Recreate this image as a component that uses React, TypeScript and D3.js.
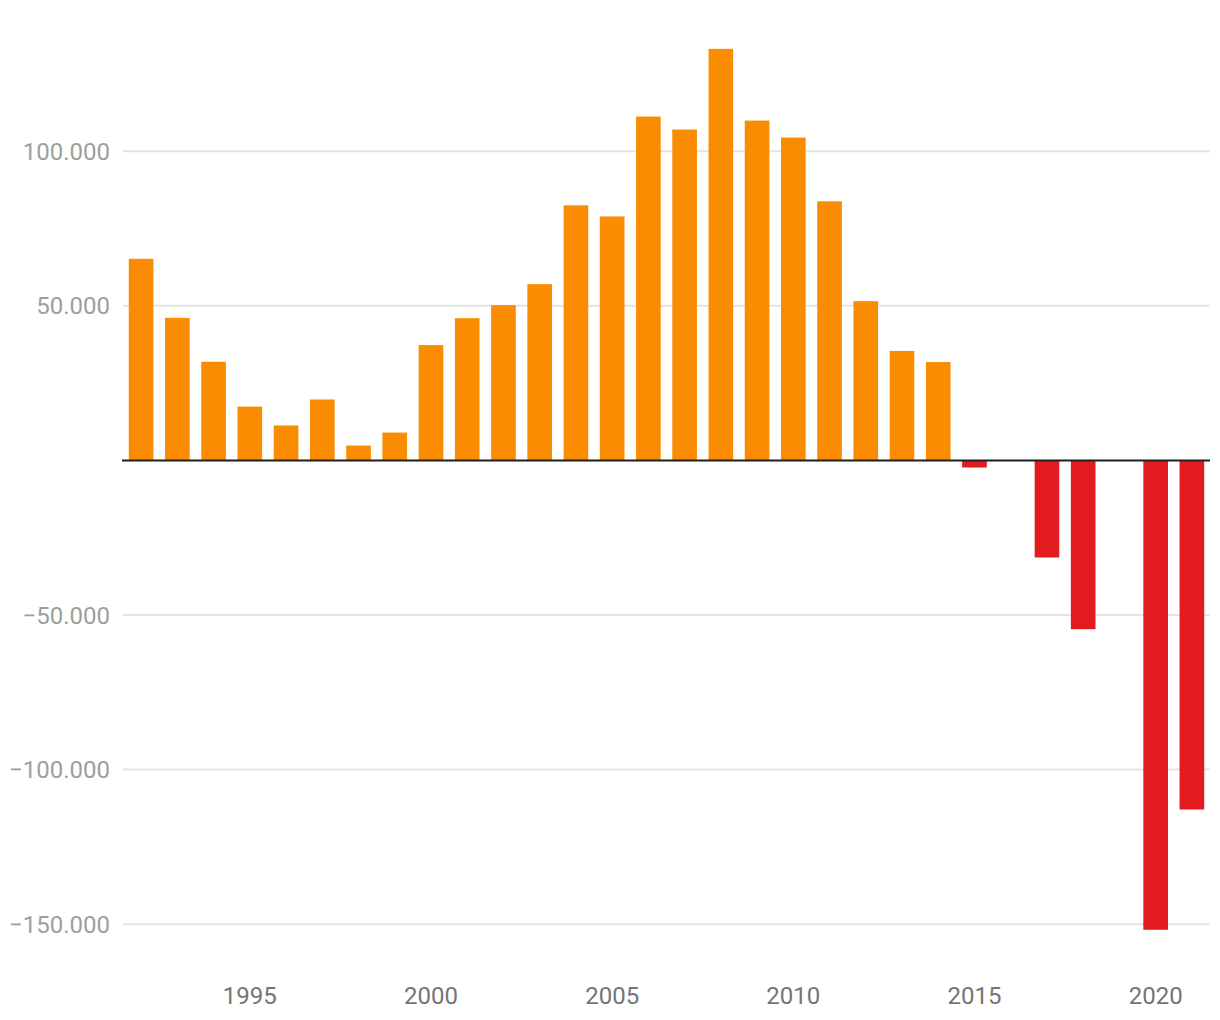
import React from "react";
import * as d3 from "d3";

const years = [1992,1993,1994,1995,1996,1997,1998,1999,2000,2001,2002,2003,2004,2005,2006,2007,2008,2009,2010,2011,2012,2013,2014,2015,2016,2017,2018,2019,2020,2021];
const values = [65200,46100,31900,17400,11300,19700,4800,9000,37300,46000,50200,57000,82500,78900,111200,107000,133100,109900,104400,83800,51500,35400,31800,-2300,0,-31400,-54600,0,-151800,-112900];
const yTicks = [-150000,-100000,-50000,50000,100000];
const xTickYears = [1995,2000,2005,2010,2015,2020];

const W = 1220, H = 1020;

export default function App() {
  const x = d3.scaleBand<number>().domain(years).range([123, 1210]).paddingInner(0.32).paddingOuter(0.16);
  const y = d3.scaleLinear().domain([-150000, 100000]).range([924.2, 151.2]);
  const fmt = (v: number) => {
    const s = d3.format(",")(Math.abs(v)).replace(/,/g, ".");
    return (v < 0 ? "\u2212" : "") + s;
  };
  const font = "Roboto, 'Noto Sans', sans-serif";
  return (
    <svg width={W} height={H} style={{ position: "absolute", left: 0, top: 0, background: "#fff" }} fontFamily={font}>
      {yTicks.map(t => (
        <g key={t}>
          <line x1={123} x2={1210} y1={y(t)} y2={y(t)} stroke="#e4e4e4" strokeWidth={2} />
          <text x={110} y={y(t)} dy="0.36em" textAnchor="end" fontSize={24} fill="#9e9e9e">{fmt(t)}</text>
        </g>
      ))}
      {years.map((yr, i) => {
        const v = values[i];
        if (v === 0) return null;
        const y0 = y(0), y1 = y(v);
        return (
          <rect key={yr} x={x(yr)} width={x.bandwidth()} y={Math.min(y0, y1)} height={Math.abs(y1 - y0)} fill={v >= 0 ? "#f98c00" : "#e31b1e"} />
        );
      })}
      <line x1={122} x2={1210} y1={y(0)} y2={y(0)} stroke="#1e1e1e" strokeWidth={2} />
      {xTickYears.map(yr => (
        <text key={yr} x={(x(yr) ?? 0) + x.bandwidth() / 2} y={1004} textAnchor="middle" fontSize={24} fill="#757575">{yr}</text>
      ))}
    </svg>
  );
}
